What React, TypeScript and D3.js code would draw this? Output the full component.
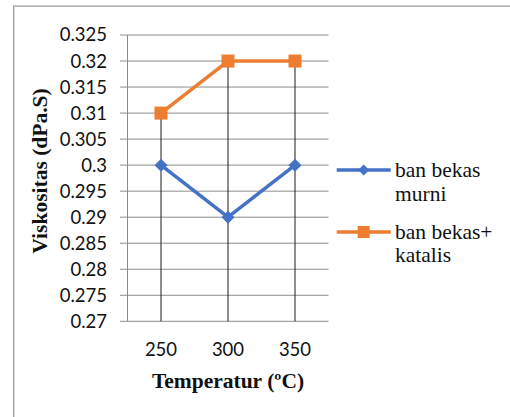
import React from "react";
import * as d3 from "d3";

const categories = ["250", "300", "350"];
const seriesMurni = [0.3, 0.29, 0.3];
const seriesKatalis = [0.31, 0.32, 0.32];
const yTicks = [0.27, 0.275, 0.28, 0.285, 0.29, 0.295, 0.3, 0.305, 0.31, 0.315, 0.32, 0.325];
const seriesNames = ["ban bekas murni", "ban bekas+ katalis"];
const legendLines = [["ban bekas", "murni"], ["ban bekas+", "katalis"]];
const colors = ["#4472C4", "#ED7D31"];

export default function App() {
  const W = 510, H = 417;
  const left = 127.5, right = 328.5, top = 35, bottom = 321.3;
  const x = d3.scaleBand<string>().domain(categories).range([left, right]).padding(0);
  const cx = (c: string) => (x(c) as number) + x.bandwidth() / 2;
  const y = d3.scaleLinear().domain([0.27, 0.325]).range([bottom, top]);
  const line = d3.line<[string, number]>().x(d => cx(d[0])).y(d => y(d[1]));
  const series = [seriesMurni, seriesKatalis];
  const tickFont = "Lato, 'Open Sans', sans-serif";
  const serif = "'Liberation Serif', 'Times New Roman', 'DejaVu Serif', serif";
  const fmt = (v: number) => String(+v.toFixed(3));

  const diamond = (px: number, py: number, r: number) =>
    `M${px},${py - r}L${px + r},${py}L${px},${py + r}L${px - r},${py}Z`;

  return (
    <svg width={W} height={H} style={{ position: "absolute", left: 0, top: 0, background: "#fff" }}>
      <rect x={0} y={0} width={W} height={H} fill="#fff" />
      <path d={`M13.7,${H + 2}V6.2H${W + 2}`} fill="none" stroke="#9a9a9a" strokeWidth={1.3} />
      {yTicks.map((t, i) => (
        <line key={i} x1={120} x2={right} y1={y(t)} y2={y(t)} stroke="#8c8c8c" strokeWidth={1} />
      ))}
      <line x1={left} x2={left} y1={top} y2={bottom} stroke="#8c8c8c" strokeWidth={1} />
      {categories.map((c, i) => (
        <line key={c} x1={cx(c)} x2={cx(c)} y1={y(Math.max(seriesMurni[i], seriesKatalis[i]))} y2={bottom}
          stroke="#1a1a1a" strokeWidth={1} />
      ))}
      {yTicks.map((t, i) => (
        <text key={i} x={107} y={y(t)} dy="0.35em" textAnchor="end" fontFamily={tickFont} fontSize={18.5} fill="#111">
          {fmt(t)}
        </text>
      ))}
      {categories.map(c => (
        <text key={c} x={cx(c)} y={356} textAnchor="middle" fontFamily={tickFont} fontSize={18.5} fill="#111">{c}</text>
      ))}
      {series.map((s, si) => (
        <path key={si} d={line(categories.map((c, i) => [c, s[i]] as [string, number])) as string}
          fill="none" stroke={colors[si]} strokeWidth={3.5} strokeLinejoin="round" />
      ))}
      {categories.map((c, i) => (
        <path key={"d" + c} d={diamond(cx(c), y(seriesMurni[i]), 6.5)} fill={colors[0]} />
      ))}
      {categories.map((c, i) => (
        <rect key={"s" + c} x={cx(c) - 6.5} y={y(seriesKatalis[i]) - 6.5} width={13} height={13} fill={colors[1]} />
      ))}
      <text x={228} y={388} textAnchor="middle" style={{ fontFamily: serif }} fontWeight="bold" fontSize={21.5} fill="#111">
        Temperatur (ºC)
      </text>
      <text transform={`translate(46.5,171) rotate(-90)`} textAnchor="middle" style={{ fontFamily: serif }} fontWeight="bold" fontSize={21.5} fill="#111">
        Viskositas (dPa.S)
      </text>
      {seriesNames.map((n, i) => {
        const ly = i === 0 ? 170 : 232;
        const by = i === 0 ? 177 : 238.5;
        return (
          <g key={n}>
            <line x1={336.7} x2={390.7} y1={ly} y2={ly} stroke={colors[i]} strokeWidth={3.5} />
            {i === 0 ? (
              <path d={diamond(363.7, ly, 5.5)} fill={colors[0]} />
            ) : (
              <rect x={363.7 - 6} y={ly - 6} width={12} height={12} fill={colors[1]} />
            )}
            {legendLines[i].map((t, k) => (
              <text key={k} x={395} y={by + k * 23.5} style={{ fontFamily: serif }} fontSize={21.5} fill="#111">{t}</text>
            ))}
          </g>
        );
      })}
    </svg>
  );
}
